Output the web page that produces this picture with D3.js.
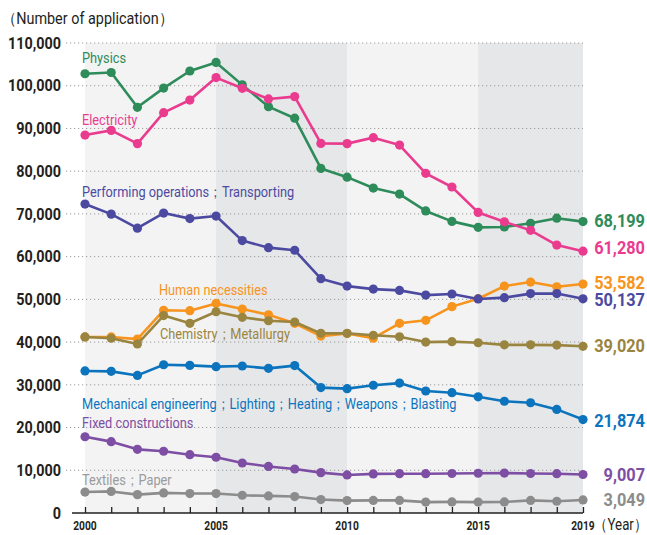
<!DOCTYPE html>
<html>
<head>
<meta charset="utf-8">
<script src="https://cdn.jsdelivr.net/npm/d3@7"></script>
<style>
body { margin: 0; background: #fff; }
svg text { font-family: "Roboto", "Noto Sans", sans-serif; }
</style>
</head>
<body>
<svg id="chart" width="647" height="535"></svg>
<script>
const years = d3.range(2000, 2020);
const yTicks = [0, 10000, 20000, 30000, 40000, 50000, 60000, 70000, 80000, 90000, 100000, 110000];
const xTickLabels = [2000, 2005, 2010, 2015, 2019];

const physics = [102800, 103100, 94950, 99450, 103450, 105450, 100200, 95100, 92400, 80650, 78600, 76050, 74650, 70700, 68250, 66850, 66950, 67800, 69000, 68199];
const electricity = [88450, 89550, 86450, 93700, 96650, 101900, 99400, 96900, 97450, 86500, 86450, 87850, 86100, 79500, 76300, 70350, 68150, 66150, 62700, 61280];
const performing = [72300, 69950, 66650, 70200, 68900, 69500, 63750, 62100, 61500, 54850, 53100, 52400, 52100, 51000, 51250, 50100, 50400, 51350, 51350, 50137];
const human = [41200, 41200, 40700, 47450, 47350, 49050, 47750, 46400, 44400, 41400, 42000, 40900, 44400, 45100, 48300, 50150, 53100, 54050, 52950, 53582];
const chemistry = [41200, 40900, 39550, 46200, 44400, 47100, 45800, 45000, 44700, 42050, 42050, 41600, 41250, 40000, 40100, 39850, 39350, 39350, 39300, 39020];
const mechanical = [33250, 33150, 32200, 34700, 34550, 34250, 34400, 33850, 34500, 29350, 29100, 29900, 30400, 28550, 28150, 27200, 26150, 25800, 24250, 21874];
const fixed = [17850, 16700, 14900, 14450, 13650, 13050, 11700, 10900, 10300, 9450, 8900, 9150, 9200, 9200, 9250, 9300, 9350, 9250, 9200, 9007];
const textiles = [4900, 5050, 4300, 4700, 4550, 4550, 4150, 4000, 3850, 3150, 2900, 2950, 2950, 2550, 2600, 2550, 2600, 2950, 2750, 3049];

const seriesNames = ["Textiles；Paper", "Fixed constructions", "Mechanical engineering；Lighting；Heating；Weapons；Blasting", "Human necessities", "Chemistry；Metallurgy", "Performing operations；Transporting", "Physics", "Electricity"];
const seriesColors = ["#8c8c8c", "#7d4ea3", "#0b74bd", "#f7941d", "#9a8540", "#4c4aa0", "#2e8b5a", "#ea3c8f"];
const seriesValues = [textiles, fixed, mechanical, human, chemistry, performing, physics, electricity];
const endLabels = ["3,049", "9,007", "21,874", "53,582", "39,020", "50,137", "68,199", "61,280"];

const svg = d3.select("#chart");
const x = d3.scaleLinear().domain([2000, 2019]).range([85, 583]);
const y = d3.scaleLinear().domain([0, 110000]).range([513, 43]);

// condensed text helper
function addText(parent, tx, ty, str, o) {
  o = o || {};
  return parent.append("text")
    .attr("transform", `translate(${tx},${ty}) scale(${o.sx || 0.82},1)`)
    .attr("text-anchor", o.anchor || "start")
    .attr("font-size", o.size || 15)
    .attr("font-weight", o.weight || 400)
    .attr("fill", o.fill || "#231f20")
    .attr("dy", o.dy || null)
    .text(str);
}

// background bands
const bands = [[2000, 2005, "#f3f3f4"], [2005, 2010, "#e6e7e9"], [2010, 2015, "#f3f3f4"], [2015, 2019, "#e6e7e9"]];
svg.append("g").selectAll("rect").data(bands).join("rect")
  .attr("x", d => x(d[0])).attr("width", d => x(d[1]) - x(d[0]))
  .attr("y", y(110000)).attr("height", y(0) - y(110000))
  .attr("fill", d => d[2]);

// grid lines
svg.append("g").selectAll("line").data(yTicks.filter(d => d > 0)).join("line")
  .attr("x1", 66).attr("x2", 583)
  .attr("y1", d => y(d)).attr("y2", d => y(d))
  .attr("stroke", "#9a9a9a").attr("stroke-width", 1)
  .attr("stroke-dasharray", "1.2,2.8");

// y labels
const gy = svg.append("g");
yTicks.forEach(d => addText(gy, 61, y(d), d3.format(",")(d), {anchor: "end", size: 16, weight: 700, sx: 0.9, dy: "0.36em"}));

// x axis
const xAxis = d3.axisBottom(x).tickValues(years).tickSize(6).tickFormat("");
const gx = svg.append("g").attr("transform", `translate(0,${y(0) - 6})`).call(xAxis);
gx.select(".domain").remove();
gx.selectAll(".tick line").attr("stroke", "#231f20").attr("stroke-width", 1.3);
svg.append("line").attr("x1", 72).attr("x2", 583).attr("y1", y(0)).attr("y2", y(0))
  .attr("stroke", "#231f20").attr("stroke-width", 1.5);

const gxl = svg.append("g");
xTickLabels.forEach(d => addText(gxl, x(d), 530, d, {anchor: "middle", size: 12.5, weight: 700, sx: 0.82}));
addText(svg, 594, 530, "（Year）", {size: 16, sx: 0.83});
addText(svg, 2, 24, "（Number of application）", {size: 16, sx: 0.9});

// lines
const line = d3.line().x((d, i) => x(years[i])).y(d => y(d));
seriesValues.forEach((vals, k) => {
  const g = svg.append("g");
  g.append("path").attr("d", line(vals)).attr("fill", "none")
    .attr("stroke", seriesColors[k]).attr("stroke-width", 2.6).attr("stroke-linejoin", "round");
  g.selectAll("circle").data(vals).join("circle")
    .attr("cx", (d, i) => x(years[i])).attr("cy", d => y(d)).attr("r", 4.6)
    .attr("fill", seriesColors[k]);
});

// series labels
const labelPos = [[82, 485], [82, 428], [82, 409], [159, 295], [160, 339], [82, 197], [82, 63], [82, 125]];
seriesNames.forEach((n, k) => {
  addText(svg, labelPos[k][0], labelPos[k][1], n, {size: 15.2, sx: 0.84, fill: seriesColors[k]})
    .attr("opacity", k === 0 ? 0.85 : 1);
});

// end labels
const endY = [506, 481, 427, 289, 352, 306, 227, 254];
endLabels.forEach((t, k) => {
  addText(svg, 645, endY[k], t, {anchor: "end", size: 19, weight: 700, sx: 0.86, fill: seriesColors[k]});
});
</script>
</body>
</html>
